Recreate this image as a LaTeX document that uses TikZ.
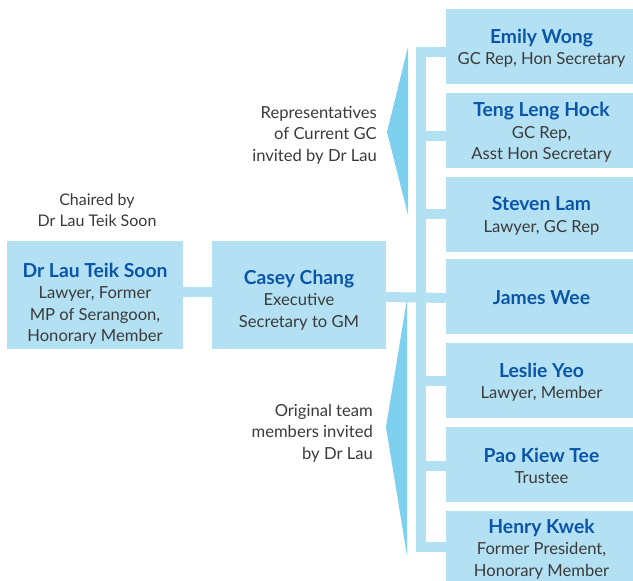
\documentclass[tikz,border=0pt]{standalone}
\usepackage{fontspec}
\setmainfont{Lato}
\definecolor{boxblue}{HTML}{B3E1F3}
\definecolor{triblue}{HTML}{7DD1EF}
\definecolor{nameblue}{HTML}{0B55A8}
\definecolor{subgray}{HTML}{3A3A3A}
\begin{document}
\begin{tikzpicture}[x=1pt,y=-1pt,
  box/.style={fill=boxblue, inner sep=0pt, align=center, text=subgray,
    font=\fontsize{16.6}{21.5}\selectfont},
  rbox/.style={box, minimum width=191pt, minimum height=75pt},
  txt/.style={box, fill=none, yshift=-2pt},
  conn/.style={draw=boxblue, line width=10pt, line join=miter},
  tri/.style={fill=triblue},
  note/.style={text=subgray, font=\fontsize{16.6}{21.5}\selectfont, inner sep=0pt}]
\newcommand{\nm}[1]{{\color{nameblue}\bfseries\fontsize{19.3}{21.5}\selectfont #1}}
\useasboundingbox (0,0) rectangle (633,581);
\clip (0,0) rectangle (633,581);
% boxes
\coordinate (bar) at (420.5,0);
\node[box, minimum width=176pt, minimum height=108pt] (lau) at (95,295) {};
\node[box, minimum width=174pt, minimum height=108pt] (casey) at (299,295) {};
\node[rbox] (emily) at (541.5,46.5) {};
\node[rbox] (teng) at (541.5,130.5) {};
\node[rbox] (steven) at (541.5,214) {};
\node[rbox] (james) at (541.5,296) {};
\node[rbox] (leslie) at (541.5,380.5) {};
\node[rbox] (pao) at (541.5,464) {};
\node[rbox, minimum height=78pt] (henry) at (541.5,550) {};
% connectors
\draw[conn] ([yshift=3pt]lau.east) -- ([yshift=3pt]casey.west);
\draw[conn] ([yshift=-5pt]emily.west) -- ([yshift=-5pt]bar |- emily.west) -- ([yshift=3pt]bar |- henry.west) -- ([yshift=3pt]henry.west);
\draw[conn] ([yshift=-5pt]teng.west) -- ([yshift=-5pt]bar |- teng.west);
\draw[conn] (steven.west) -- (bar |- steven.west);
\draw[conn] ([yshift=-2pt]james.west) -- ([yshift=-2pt]casey.east);
\draw[conn] (leslie.west) -- (bar |- leslie.west);
\draw[conn] ([yshift=-2pt]pao.west) -- ([yshift=-2pt]bar |- pao.west);
% triangles
\fill[tri] (408,47) -- (387,132) -- (408,215) -- cycle;
\fill[tri] (407,299) -- (386,427) -- (407,556) -- cycle;
% texts
\node[txt] at (lau.center) [yshift=-7pt] {\nm{Dr Lau Teik Soon}\\Lawyer, Former\\MP of Serangoon,\\Honorary Member};
\node[txt] at (casey.center) [yshift=-3pt] {\nm{Casey Chang}\\Executive\\Secretary to GM};
\node[txt] at (emily.center) {\nm{Emily Wong}\\GC Rep, Hon Secretary};
\node[txt] at (teng.center) {\nm{Teng Leng Hock}\\GC Rep,\\Asst Hon Secretary};
\node[txt] at (steven.center) {\nm{Steven Lam}\\Lawyer, GC Rep};
\node[txt] at (james.center) {\nm{James Wee}};
\node[txt] at (leslie.center) {\nm{Leslie Yeo}\\Lawyer, Member};
\node[txt] at (pao.center) {\nm{Pao Kiew Tee}\\Trustee};
\node[txt] at (henry.center) [yshift=3pt] {\nm{Henry Kwek}\\Former President,\\Honorary Member};
\node[note, align=center, font=\fontsize{16}{21}\selectfont] (chair) at (97,210) {Chaired by\\Dr Lau Teik Soon};
\node[note, align=right, anchor=east] (rep) at (377,135) {Representatives\\of Current GC\\invited by Dr Lau};
\node[note, align=right, anchor=east] (orig) at (373,433) {Original team\\members invited\\by Dr Lau};
\end{tikzpicture}
\end{document}
